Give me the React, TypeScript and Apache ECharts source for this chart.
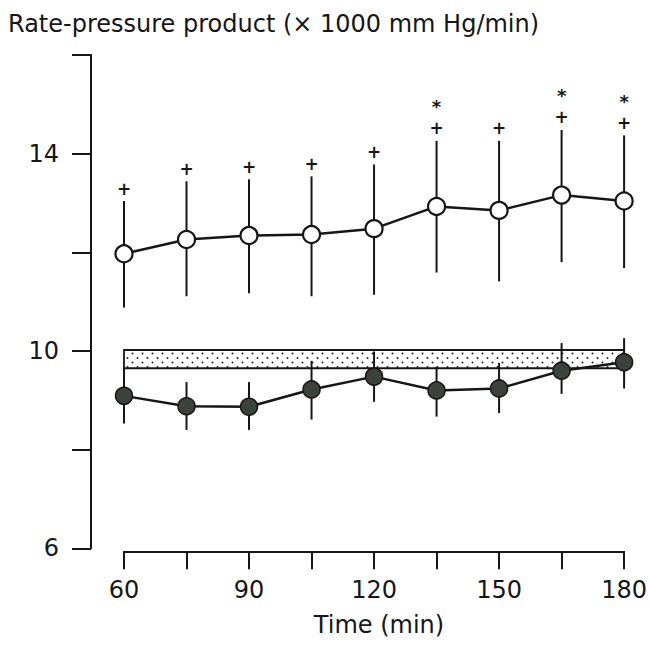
import React, { useEffect, useRef } from "react";
import * as echarts from "echarts";

// ---- data ----
const times = [60, 75, 90, 105, 120, 135, 150, 165, 180];
const openMean = [11.97, 12.26, 12.34, 12.36, 12.48, 12.93, 12.85, 13.16, 13.04];
const openHigh = [13.04, 13.44, 13.48, 13.54, 13.78, 14.26, 14.26, 14.48, 14.37];
const openLow = [10.88, 11.11, 11.17, 11.11, 11.14, 11.59, 11.41, 11.8, 11.68];
const plusMarks = [1, 1, 1, 1, 1, 1, 1, 1, 1];
const starMarks = [0, 0, 0, 0, 0, 1, 0, 1, 1];
const filledMean = [9.09, 8.88, 8.87, 9.22, 9.48, 9.2, 9.24, 9.6, 9.77];
const filledHigh = [9.64, 9.37, 9.37, 9.8, 9.99, 9.68, 9.76, 10.16, 10.26];
const filledLow = [8.53, 8.4, 8.4, 8.61, 8.97, 8.67, 8.74, 9.13, 9.24];
const bandLow = 9.65;
const bandHigh = 10.02;
const bandStart = 60;
const bandEnd = 180;
const yLabelled = [6, 10, 14];
const xLabelled = [60, 90, 120, 150, 180];
const titleText = "Rate-pressure product (× 1000 mm Hg/min)";
const xAxisName = "Time (min)";

const INK = "#161616";
const FONT = "'DejaVu Sans', sans-serif";

function makeDots(): string {
  const c = document.createElement("canvas");
  c.width = 10;
  c.height = 9;
  const ctx = c.getContext("2d");
  if (ctx) {
    ctx.fillStyle = "#ffffff";
    ctx.fillRect(0, 0, 10, 9);
    ctx.fillStyle = "#222222";
    ctx.beginPath();
    ctx.arc(2.5, 2.5, 1.0, 0, Math.PI * 2);
    ctx.fill();
    ctx.beginPath();
    ctx.arc(7.5, 7, 1.0, 0, Math.PI * 2);
    ctx.fill();
  }
  return c.toDataURL();
}

export default function App() {
  const ref = useRef<HTMLDivElement>(null);
  useEffect(() => {
    if (!ref.current) return;
    const chart = echarts.init(ref.current, undefined, { renderer: "svg" });
    const dots = makeDots();

    const errData = (low: number[], high: number[], withMarks: boolean) =>
      times.map((t, i) => [t, low[i], high[i], withMarks ? plusMarks[i] : 0, withMarks ? starMarks[i] : 0]);

    const renderErr = (params: any, api: any) => {
      const x = api.value(0);
      const pLow = api.coord([x, api.value(1)]);
      const pHigh = api.coord([x, api.value(2)]);
      const children: any[] = [
        {
          type: "line",
          shape: { x1: pLow[0], y1: pLow[1], x2: pHigh[0], y2: pHigh[1] },
          style: { stroke: INK, lineWidth: 2 },
        },
      ];
      if (api.value(3)) {
        children.push({
          type: "text",
          x: pHigh[0],
          y: pHigh[1] - 12.5,
          style: {
            text: "+",
            font: "bold 17px " + FONT,
            fill: INK,
            align: "center",
            verticalAlign: "middle",
            textAlign: "center",
            textVerticalAlign: "middle",
          },
        });
      }
      if (api.value(4)) {
        children.push({
          type: "text",
          x: pHigh[0],
          y: pHigh[1] - 34,
          style: {
            text: "*",
            font: "bold 18px " + FONT,
            fill: INK,
            align: "center",
            verticalAlign: "middle",
            textAlign: "center",
            textVerticalAlign: "middle",
          },
        });
      }
      return { type: "group", children };
    };

    chart.setOption({
      animation: false,
      grid: { left: 124, right: 19, top: 55, bottom: 98.7 },
      xAxis: {
        type: "value",
        min: 60,
        max: 180,
        interval: 15,
        offset: 3,
        axisLine: { show: true, lineStyle: { color: INK, width: 2 } },
        axisTick: { show: true, length: 18, lineStyle: { color: INK, width: 2 } },
        splitLine: { show: false },
        axisLabel: {
          margin: 27,
          color: INK,
          fontSize: 24,
          fontFamily: FONT,
          formatter: (v: number) => (xLabelled.indexOf(v) >= 0 ? String(v) : ""),
        },
      },
      yAxis: {
        type: "value",
        min: 6,
        max: 16,
        interval: 2,
        offset: 33,
        axisLine: { show: true, lineStyle: { color: INK, width: 2 } },
        axisTick: { show: true, length: 19, lineStyle: { color: INK, width: 2 } },
        splitLine: { show: false },
        axisLabel: {
          margin: 32,
          color: INK,
          fontSize: 24,
          fontFamily: FONT,
          formatter: (v: number) => (yLabelled.indexOf(v) >= 0 ? String(v) : ""),
        },
      },
      graphic: [
        {
          type: "text",
          left: 8,
          top: 12,
          style: { text: titleText, font: "24px " + FONT, fill: INK },
        },
        {
          type: "text",
          x: 379,
          y: 625,
          style: {
            text: xAxisName,
            font: "24px " + FONT,
            fill: INK,
            textAlign: "center",
            textVerticalAlign: "middle",
            align: "center",
            verticalAlign: "middle",
          },
        },
      ],
      series: [
        {
          type: "line",
          name: "band",
          data: [],
          z: 1,
          markArea: {
            silent: true,
            itemStyle: {
              color: { image: dots, repeat: "repeat" },
              borderColor: INK,
              borderWidth: 1.8,
            },
            data: [[{ coord: [bandStart, bandHigh] }, { coord: [bandEnd, bandLow] }]],
          },
        },
        {
          type: "custom",
          name: "filledErr",
          z: 2,
          renderItem: renderErr,
          data: errData(filledLow, filledHigh, false),
        },
        {
          type: "custom",
          name: "openErr",
          z: 2,
          renderItem: renderErr,
          data: errData(openLow, openHigh, true),
        },
        {
          type: "line",
          name: "filled",
          z: 3,
          data: times.map((t, i) => [t, filledMean[i]]),
          symbol: "circle",
          symbolSize: 17,
          lineStyle: { color: INK, width: 2.5 },
          itemStyle: { color: "#3b423e", borderColor: INK, borderWidth: 1.5 },
        },
        {
          type: "line",
          name: "open",
          z: 3,
          data: times.map((t, i) => [t, openMean[i]]),
          symbol: "circle",
          symbolSize: 17,
          lineStyle: { color: INK, width: 2.5 },
          itemStyle: { color: "#ffffff", borderColor: INK, borderWidth: 2.2 },
        },
      ],
    });
    return () => chart.dispose();
  }, []);
  return (
    <div
      ref={ref}
      style={{ position: "absolute", left: 0, top: 0, width: 650, height: 647, background: "#fff" }}
    />
  );
}
